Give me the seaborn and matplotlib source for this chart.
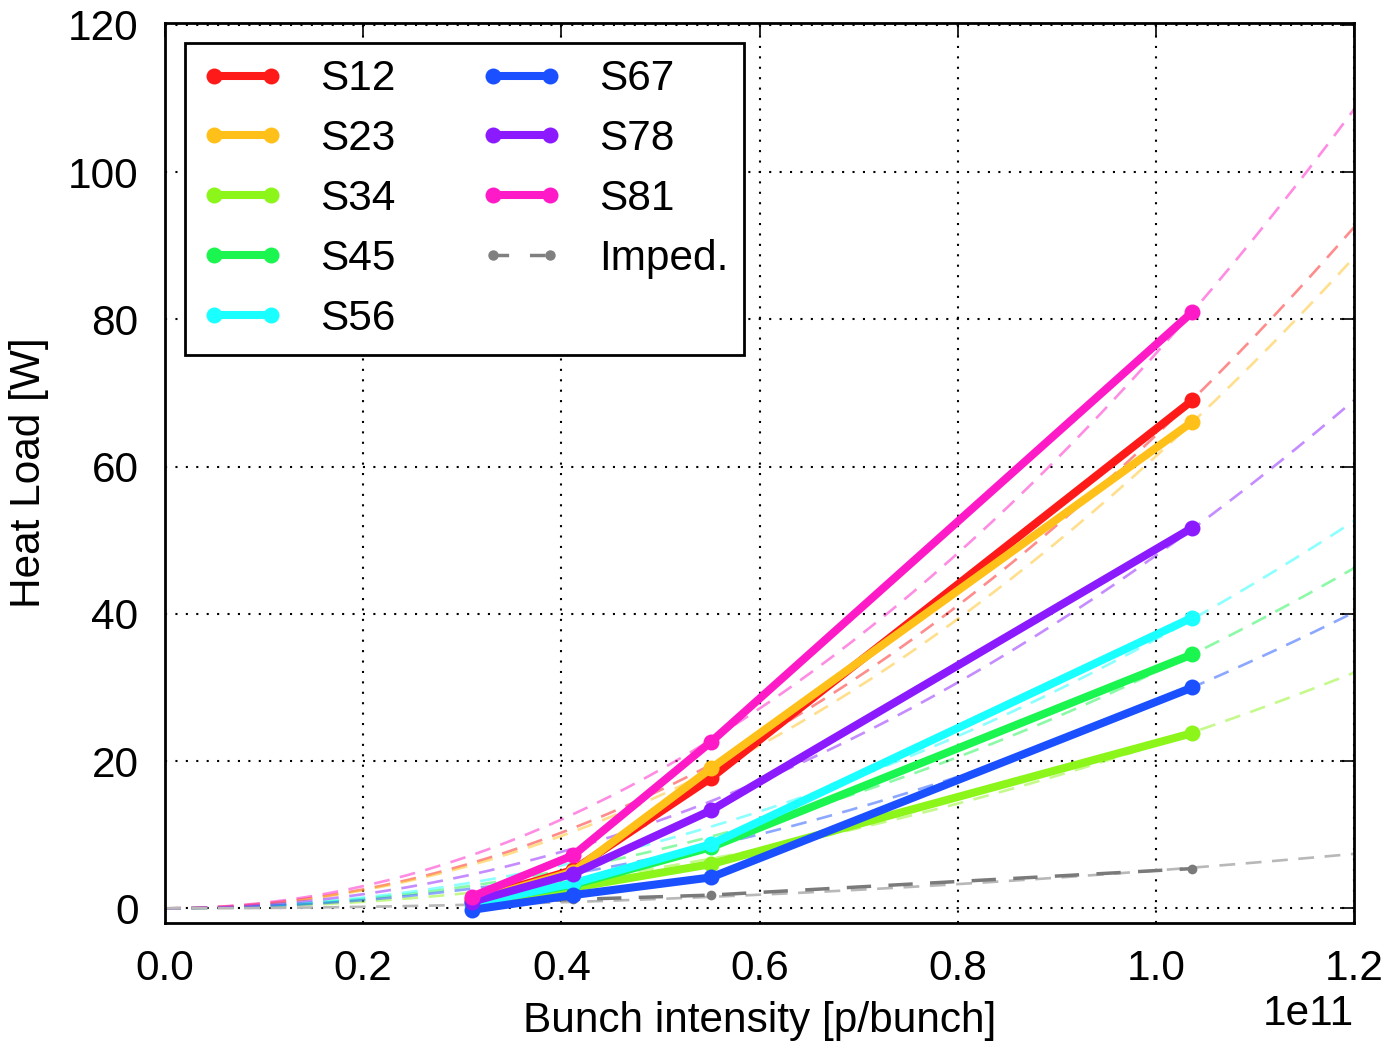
import numpy as np
import pandas as pd
import matplotlib
matplotlib.use("Agg")
import matplotlib.pyplot as plt
import seaborn as sns
from matplotlib.lines import Line2D

# ---- data ----
sectors = ["S12", "S23", "S34", "S45", "S56", "S67", "S78", "S81"]
colors = ["#ff1a1a", "#ffc01a", "#8cf51a", "#1af550", "#1affff", "#1a50ff", "#8c1aff", "#ff1ac8"]
intensity = [0.31e11, 0.412e11, 0.551e11, 1.037e11]

s12 = [1.2, 5.2, 17.7, 69.0]
s23 = [1.0, 5.0, 19.0, 66.1]
s34 = [0.5, 2.8, 6.0, 23.8]
s45 = [0.8, 3.2, 8.3, 34.5]
s56 = [0.6, 3.4, 8.7, 39.5]
s67 = [-0.2, 1.8, 4.2, 30.0]
s78 = [0.9, 4.7, 13.3, 51.7]
s81 = [1.6, 7.2, 22.6, 81.0]
imped = [0.7, 1.2, 1.8, 5.4]
series = [s12, s23, s34, s45, s56, s67, s78, s81]

# quadratic fit curves through origin, read as their value at 1.2e11
fit_end_x = 1.2e11
fit_end = {"S12": 92.5, "S23": 88.4, "S34": 32.0, "S45": 46.2, "S56": 52.6,
           "S67": 40.2, "S78": 69.0, "S81": 108.5, "Imped.": 7.4}

xticks = [0.0, 0.2e11, 0.4e11, 0.6e11, 0.8e11, 1.0e11, 1.2e11]
yticks = [0, 20, 40, 60, 80, 100, 120]

# ---- style ----
sns.set_theme(style="white")
plt.rcParams["font.family"] = ["Liberation Sans", "DejaVu Sans"]
plt.rcParams["font.size"] = 30
plt.rcParams["text.color"] = "black"
plt.rcParams["axes.labelcolor"] = "black"

FS = 30.5

fig = plt.figure(figsize=(13.89, 10.41), dpi=100)
ax = fig.add_axes([0.1188, 0.1133, 0.856, 0.865])

xf = np.linspace(0, fit_end_x, 60)

# fit curves (behind)
for name, col in zip(sectors, colors):
    df = pd.DataFrame({"x": xf, "y": fit_end[name] * (xf / fit_end_x) ** 2})
    sns.lineplot(data=df, x="x", y="y", ax=ax, color=col, alpha=0.5, lw=1.9,
                 linestyle=(0, (6, 4)), zorder=2)
df = pd.DataFrame({"x": xf, "y": fit_end["Imped."] * (xf / fit_end_x) ** 2})
sns.lineplot(data=df, x="x", y="y", ax=ax, color="#b8b8b8", lw=1.9,
             linestyle=(0, (6, 4)), zorder=2)

# imped data
df = pd.DataFrame({"x": intensity, "y": imped})
sns.lineplot(data=df, x="x", y="y", ax=ax, color="#7a7a7a", lw=2.5,
             linestyle=(0, (7, 5)), marker="o", markersize=7, markeredgewidth=0, zorder=3)

# sector data
handles = []
for name, col, vals in zip(sectors, colors, series):
    df = pd.DataFrame({"x": intensity, "y": vals})
    sns.lineplot(data=df, x="x", y="y", ax=ax, color=col, lw=5.8, marker="o",
                 markersize=11.5, markeredgewidth=0, zorder=4)
    handles.append(Line2D([0], [0], color=col, lw=5.8, marker="o", markersize=11.5,
                          markeredgewidth=0, label=name))
handles.append(Line2D([0], [0], color="#808080", lw=2.5, linestyle=(0, (4.5, 6)),
                      marker="o", markersize=7.5, markeredgewidth=0, label="Imped."))

ax.set_xlim(0, 1.2e11)
ax.set_ylim(-2, 120.3)
ax.set_xticks(xticks)
ax.set_yticks(yticks)
ax.grid(True, color="black", linestyle=(0, (1, 4)), lw=1.5)
for sp in ax.spines.values():
    sp.set_color("black")
    sp.set_linewidth(2)
ax.tick_params(axis="both", which="both", direction="in", length=10, width=1.2,
               top=True, right=True, labelsize=FS, colors="black")
ax.tick_params(axis="x", pad=19)
ax.tick_params(axis="y", pad=19)
ax.xaxis.get_offset_text().set_fontsize(FS)
ax.xaxis.get_offset_text().set_color("black")

ax.set_xlabel("Bunch intensity [p/bunch]", fontsize=FS, labelpad=8, color="black")
ax.set_ylabel("Heat Load [W]", fontsize=FS, labelpad=14, color="black")

leg = ax.legend(handles=handles, loc="upper left", ncol=2, fontsize=FS, numpoints=2,
                frameon=True, fancybox=False, edgecolor="black", framealpha=1,
                handlelength=1.95, handletextpad=0.85, columnspacing=2.0,
                labelspacing=0.47, borderpad=0.38, bbox_to_anchor=(0.017, 0.977),
                borderaxespad=0)
leg.get_frame().set_linewidth(2)

fig.savefig("out.png", dpi=100)
